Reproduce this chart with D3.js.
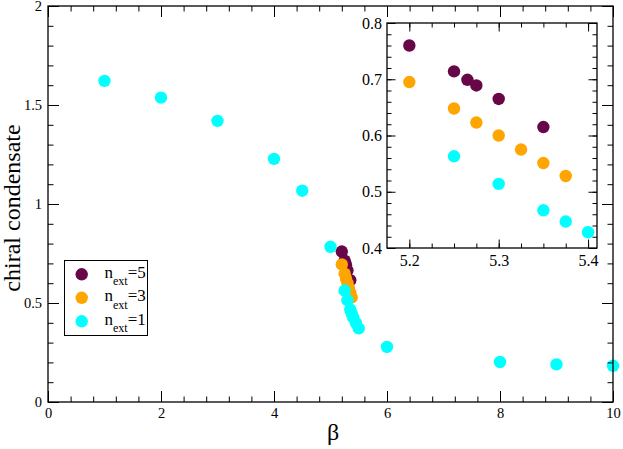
<!DOCTYPE html>
<html>
<head>
<meta charset="utf-8">
<script src="https://cdn.jsdelivr.net/npm/d3@7"></script>
<style>
  body { margin: 0; background: #fff; }
</style>
</head>
<body>
<div id="chart"></div>
<script>
// data
var betaN5 = [5.2, 5.25, 5.265, 5.275, 5.3, 5.35];
var condN5 = [0.760, 0.714, 0.699, 0.689, 0.665, 0.615];

var betaN3 = [5.2, 5.25, 5.275, 5.3, 5.325, 5.35, 5.375];
var condN3 = [0.695, 0.648, 0.623, 0.600, 0.575, 0.551, 0.528];

var betaN1 = [1, 2, 3, 4, 4.5, 5, 5.25, 5.3, 5.35, 5.375, 5.4, 5.45, 5.5, 6, 8, 9, 10];
var condN1 = [1.622, 1.537, 1.420, 1.228, 1.067, 0.784, 0.563, 0.514, 0.467, 0.447, 0.428, 0.400, 0.372, 0.278, 0.202, 0.190, 0.183];

var seriesNames = ["5", "3", "1"];
var seriesColors = ["#670748", "#ffa500", "#00ffff"];

var xTicksMain = [0, 2, 4, 6, 8, 10];
var yTicksMain = [0, 0.5, 1, 1.5, 2];
var xTicksInset = [5.2, 5.3, 5.4];
var yTicksInset = [0.4, 0.5, 0.6, 0.7, 0.8];

var series = [
  { name: seriesNames[0], color: seriesColors[0], pts: betaN5.map(function(b, i) { return [b, condN5[i]]; }) },
  { name: seriesNames[1], color: seriesColors[1], pts: betaN3.map(function(b, i) { return [b, condN3[i]]; }) },
  { name: seriesNames[2], color: seriesColors[2], pts: betaN1.map(function(b, i) { return [b, condN1[i]]; }) }
];

var W = 623, H = 449;
var FONT = "Liberation Serif";
var svg = d3.select("#chart").append("svg")
    .attr("width", W)
    .attr("height", H);

// draw a framed box with inward ticks on all four sides
function frame(g, x, y, o) {
  var w = x.range()[1] - x.range()[0], h = y.range()[0] - y.range()[1];
  var axes = [
    [d3.axisBottom, "translate(0," + h + ")", x, o.xMaj, o.xMin, true],
    [d3.axisTop, "translate(0,0)", x, o.xMaj, o.xMin, false],
    [d3.axisLeft, "translate(0,0)", y, o.yMaj, o.yMin, true],
    [d3.axisRight, "translate(" + w + ",0)", y, o.yMaj, o.yMin, false]
  ];
  axes.forEach(function(a) {
    var minor = a[0](a[2]).tickValues(a[4]).tickSizeInner(-o.minLen).tickSizeOuter(0).tickFormat("");
    g.append("g").attr("transform", a[1]).call(minor)
      .call(function(s) { s.select(".domain").remove(); s.selectAll("text").remove(); });
    var major = a[0](a[2]).tickValues(a[3]).tickSizeInner(-o.majLen).tickSizeOuter(0)
      .tickPadding(a[0] === d3.axisBottom ? o.padX : o.padY)
      .tickFormat(a[5] ? d3.format("") : "");
    g.append("g").attr("transform", a[1]).call(major)
      .attr("font-family", null)
      .call(function(s) {
        s.select(".domain").remove();
        s.selectAll("line").attr("stroke", "#000");
        if (!a[5]) s.selectAll("text").remove();
        s.selectAll("text").attr("fill", "#000")
          .style("font-family", FONT).style("font-size", o.fs + "px");
      });
  });
  g.append("rect")
    .attr("width", w).attr("height", h)
    .attr("fill", "none").attr("stroke", "#000").attr("stroke-width", 1.3);
}

function minorTicks(lo, hi, step) {
  var out = [];
  for (var i = 0; lo + i * step <= hi + 1e-9; i++) out.push(+(lo + i * step).toFixed(4));
  return out;
}

// ---- main plot
var margin = {top: 6, right: 10, bottom: 47, left: 48};
var width = 613 - margin.left, height = 402 - margin.top;

var x = d3.scaleLinear().domain([0, 10]).range([0, width]);
var y = d3.scaleLinear().domain([0, 2]).range([height, 0]);

var main = svg.append("g")
    .attr("transform", "translate(" + margin.left + "," + margin.top + ")");

main.append("rect").attr("width", width).attr("height", height).attr("fill", "#fff");

series.forEach(function(s) {
  main.append("g").selectAll("circle")
    .data(s.pts).enter().append("circle")
      .attr("cx", function(d) { return x(d[0]); })
      .attr("cy", function(d) { return y(d[1]); })
      .attr("r", 6.2)
      .attr("fill", s.color);
});

frame(main, x, y, {
  xMaj: xTicksMain, xMin: minorTicks(0, 10, 0.4),
  yMaj: yTicksMain, yMin: minorTicks(0, 2, 0.1),
  majLen: 11, minLen: 5.5, padX: 6, padY: 6, fs: 14.5
});

// axis titles
svg.append("text")
  .attr("x", 333).attr("y", 440)
  .style("text-anchor", "middle")
  .style("font-family", FONT)
  .style("font-size", "24px")
  .text("β");

svg.append("text")
  .attr("transform", "translate(20,208) rotate(-90)")
  .style("text-anchor", "middle")
  .style("font-family", FONT)
  .style("font-size", "24px")
  .text("chiral condensate");

// ---- legend
var legend = svg.append("g");
legend.append("rect")
  .attr("x", 64.5).attr("y", 260.5).attr("width", 83).attr("height", 75)
  .attr("fill", "#fff").attr("stroke", "#000").attr("stroke-width", 1);

series.forEach(function(s, i) {
  var yy = 274.3 + i * 23.5;
  legend.append("circle")
    .attr("cx", 81.7).attr("cy", yy).attr("r", 6.2).attr("fill", s.color);
  var t = legend.append("text")
    .attr("x", 104.5).attr("y", yy + 3.2)
    .style("font-family", FONT)
    .style("font-size", "17px");
  t.append("tspan").text("n");
  t.append("tspan").attr("dy", 7.5).style("font-size", "12px").text("ext");
  t.append("tspan").attr("dy", -7.5).text("=" + s.name);
});

// ---- inset
var ix = d3.scaleLinear().domain([5.175, 5.41]).range([0, 597 - 387]);
var iy = d3.scaleLinear().domain([0.4, 0.8]).range([248 - 23, 0]);

var inset = svg.append("g").attr("transform", "translate(387,23)");
inset.append("rect")
  .attr("width", ix.range()[1]).attr("height", iy.range()[0])
  .attr("fill", "#fff");

series.forEach(function(s) {
  inset.append("g").selectAll("circle")
    .data(s.pts.filter(function(d) { return d[0] >= 5.175 && d[0] <= 5.41 && d[1] >= 0.4; }))
    .enter().append("circle")
      .attr("cx", function(d) { return ix(d[0]); })
      .attr("cy", function(d) { return iy(d[1]); })
      .attr("r", 6.2)
      .attr("fill", s.color);
});

frame(inset, ix, iy, {
  xMaj: xTicksInset, xMin: minorTicks(5.2, 5.4, 0.025),
  yMaj: yTicksInset, yMin: minorTicks(0.4, 0.8, 0.02),
  majLen: 8.5, minLen: 4.5, padX: 7, padY: 5, fs: 16
});
</script>
</body>
</html>
